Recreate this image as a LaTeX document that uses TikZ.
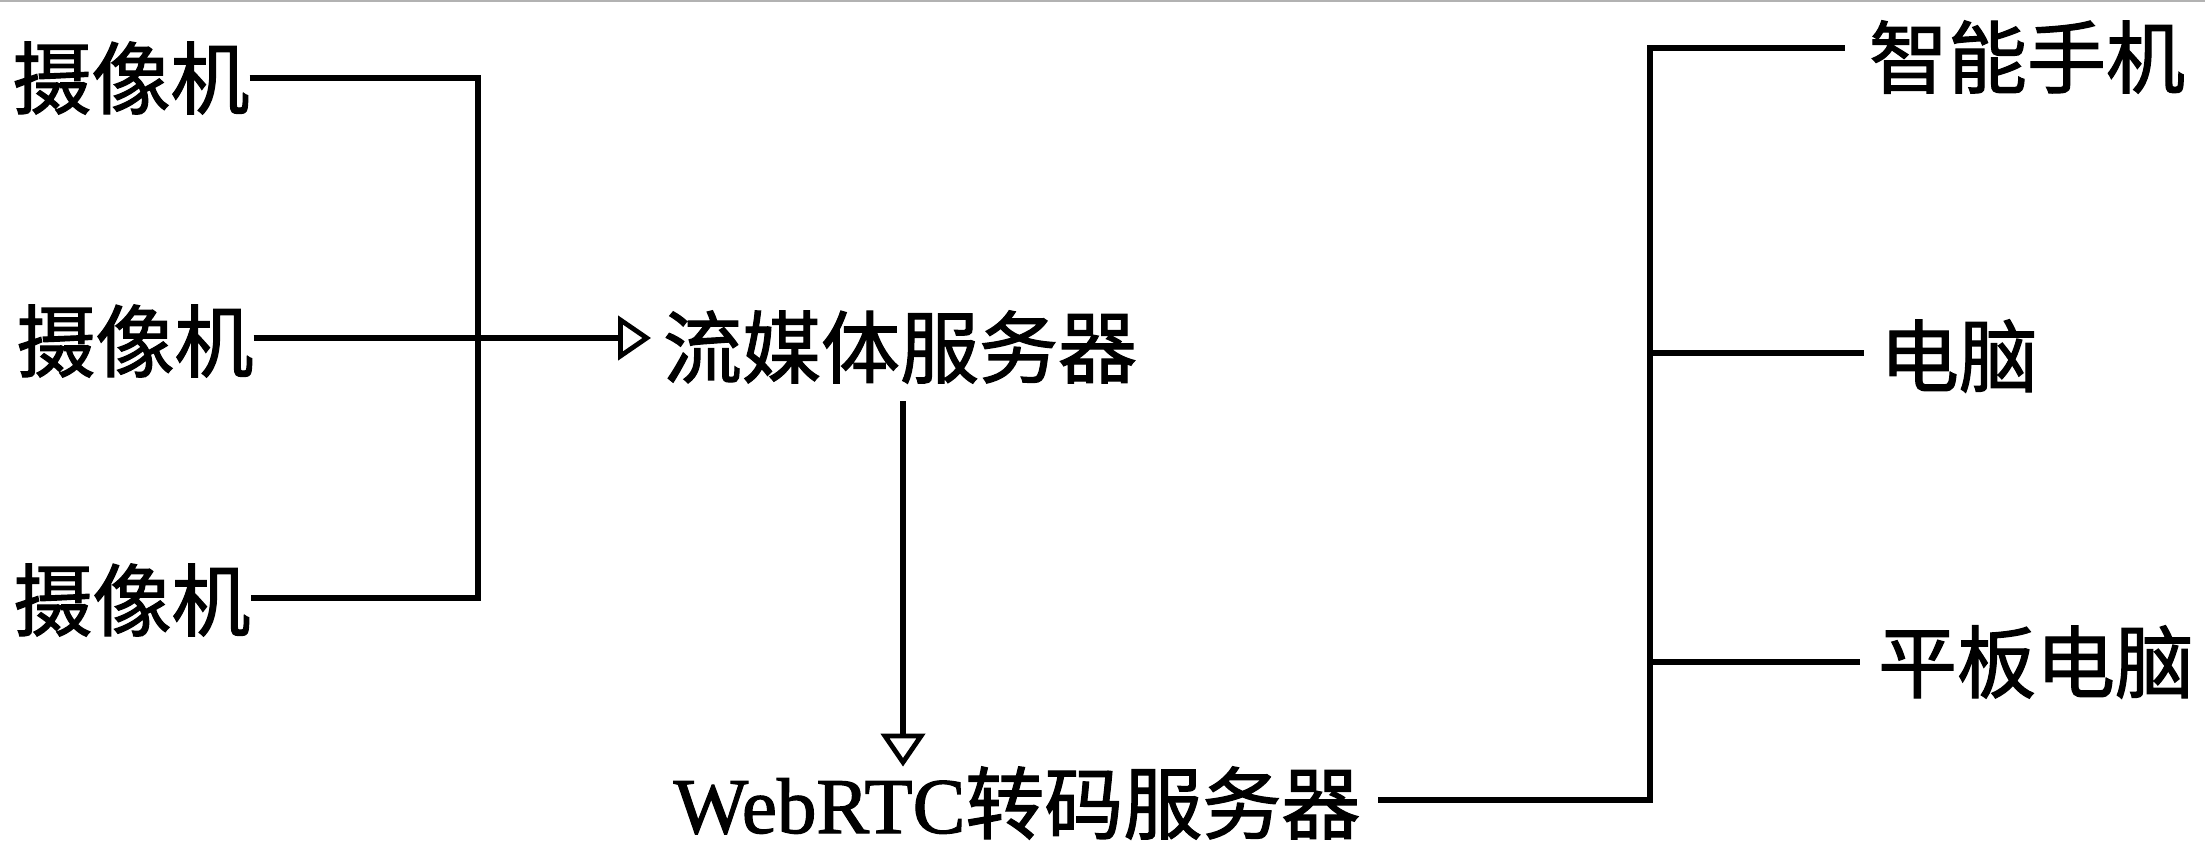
\documentclass[tikz,border=0pt]{standalone}
\usepackage{fontspec}
\setmainfont{Liberation Serif}[RawFeature={embolden=1.5}]
\newfontfamily\cjk{Noto Sans CJK SC}[RawFeature={embolden=1.5}]
\usetikzlibrary{arrows.meta,calc}
\tikzset{
  lbl/.style={inner sep=0pt, outer sep=0pt, font=\cjk\fontsize{39.5pt}{40pt}\selectfont},
  wire/.style={line width=2.8pt, line join=miter},
  arr/.style={wire, -{Triangle[open, length=16.5pt, width=22pt, line width=2.4pt]}},
}
\begin{document}
\begin{tikzpicture}[x=0.5pt, y=-0.5pt]
\useasboundingbox (0,0) rectangle (2205,850);
\draw[gray!60, line width=1pt] (0,1) -- (2205,1);
% left cameras
\node[lbl] (cam1) at (131,78) {摄像机};
\node[lbl] (cam2) at (135,341) {摄像机};
\node[lbl] (cam3) at (132,600) {摄像机};
% servers
\node[lbl] (stream) at (900,347) {流媒体服务器};
\node[lbl] (webrtc) at (1017,803) {{\rmfamily WebRTC}转码服务器};
% clients
\node[lbl] (phone) at (2027,57) {智能手机};
\node[lbl] (pc) at (1959,356) {电脑};
\node[lbl] (tablet) at (2036,662) {平板电脑};
% junctions
\coordinate (lbus) at (478,338);
\coordinate (rtop) at (1650,48);
\coordinate (rmid) at (1650,353);
\coordinate (rbot) at (1650,662);
\coordinate (rlow) at (1650,800);
% left connectors
\draw[wire] (cam1.east |- 0,78) -| (lbus) |- (cam3.east |- 0,598);
\draw[arr] (cam2.east |- lbus) -- ([xshift=-6pt]stream.west |- lbus);
% down arrow
\draw[arr] ([xshift=1.5pt,yshift=-9pt]stream.south) -- ([xshift=1.5pt]stream.south |- webrtc.north);
% right connectors
\draw[wire] ([xshift=9pt]webrtc.east |- rlow) -| (rtop) -- ([xshift=-12pt]phone.west |- rtop);
\draw[wire] (rmid) -- ([xshift=-8pt]pc.west |- rmid);
\draw[wire] (rbot) -- ([xshift=-9pt]tablet.west |- rbot);
\end{tikzpicture}
\end{document}
